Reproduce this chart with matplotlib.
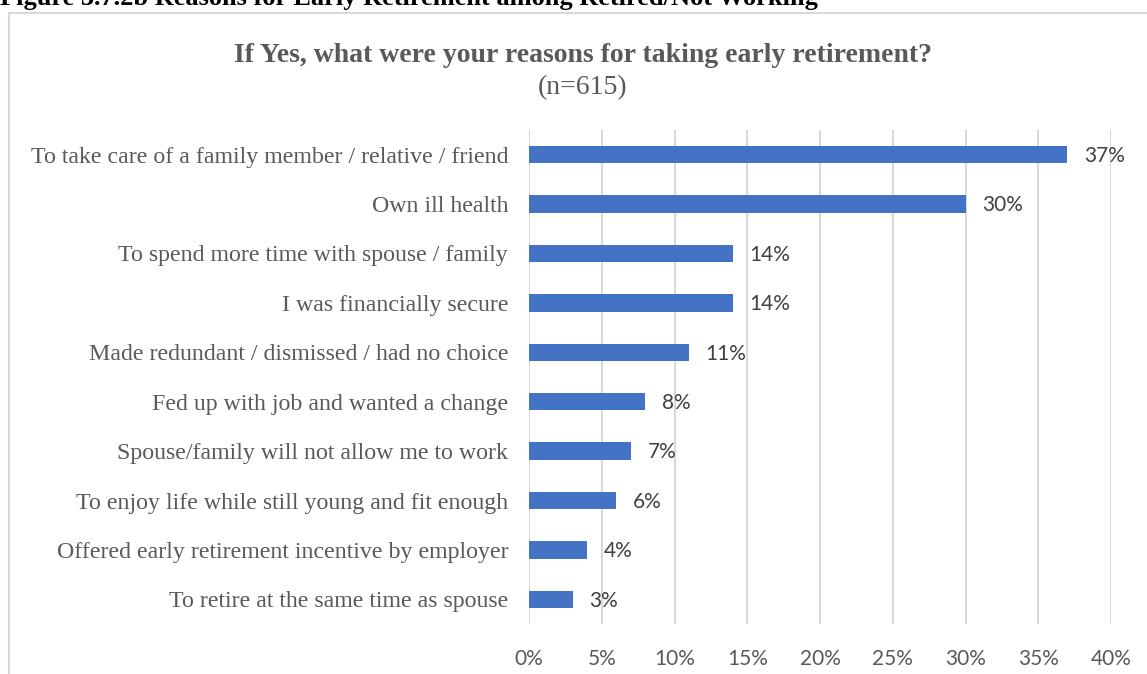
"""Horizontal bar chart: reasons for taking early retirement."""
import matplotlib
matplotlib.use("Agg")
import matplotlib.pyplot as plt
from matplotlib.patches import Rectangle
from matplotlib.ticker import FuncFormatter

reasons = [
    "To take care of a family member / relative / friend",
    "Own ill health",
    "To spend more time with spouse / family",
    "I was financially secure",
    "Made redundant / dismissed / had no choice",
    "Fed up with job and wanted a change",
    "Spouse/family will not allow me to work",
    "To enjoy life while still young and fit enough",
    "Offered early retirement incentive by employer",
    "To retire at the same time as spouse",
]
shares = [37, 30, 14, 14, 11, 8, 7, 6, 4, 3]
x_ticks = [0, 5, 10, 15, 20, 25, 30, 35, 40]

BAR = "#4472C4"
GREY = "#595959"
DARK = "#404040"
GRID = "#D9D9D9"
SERIF = "Liberation Serif"
SANS = "Lato"

W, H = 1147, 674
fig = plt.figure(figsize=(W / 100, H / 100), dpi=100)

# chart frame (runs off the right and bottom edge in the source)
fig.patches.append(Rectangle((9 / W, -0.1), 1.2, 1 - 13 / H + 0.1,
                             transform=fig.transFigure, fill=False,
                             edgecolor=GRID, linewidth=1.5))

# caption is cropped at the top in the source image
fig.text(0.0, 1 - 5 / H, "Figure 3.7.2b Reasons for Early Retirement among Retired/Not Working",
         family=SERIF, fontsize=19, fontweight="bold", color="black",
         ha="left", va="baseline")
fig.text(583 / W, 1 - 56 / H, "If Yes, what were your reasons for taking early retirement?",
         family=SERIF, fontsize=20, fontweight="bold", color=GREY,
         ha="center", va="center")
fig.text(583 / W, 1 - 88 / H, "(n=615)", family=SERIF, fontsize=20,
         color=GREY, ha="center", va="center")

left, right = 529 / W, 1111 / W
top, bottom = 1 - 130 / H, 1 - 624 / H
ax = fig.add_axes([left, bottom, right - left, top - bottom])

ypos = list(range(len(reasons)))
ax.barh(ypos, shares, height=0.35, color=BAR, zorder=3)
for y, v in zip(ypos, shares):
    ax.annotate(f"{v}%", (v, y), xytext=(12, -1), textcoords="offset points",
                va="center", ha="left", family=SANS, fontsize=15, color=DARK)

ax.set_xlim(0, 40)
ax.set_ylim(len(reasons) - 0.5, -0.5)
ax.set_xticks(x_ticks)
ax.xaxis.set_major_formatter(FuncFormatter(lambda v, _: f"{v:.0f}%"))
ax.set_yticks(ypos)
ax.set_yticklabels(reasons, family=SERIF, fontsize=17.2, color=GREY)
for lab in ax.get_xticklabels():
    lab.set_family(SANS)
    lab.set_fontsize(15)
    lab.set_color(GREY)
ax.tick_params(axis="y", length=0, pad=15)
ax.tick_params(axis="x", length=0, pad=18)
ax.grid(axis="x", color=GRID, linewidth=1.5, zorder=0)
for s in ax.spines.values():
    s.set_visible(False)

fig.savefig("out.png", dpi=100)
